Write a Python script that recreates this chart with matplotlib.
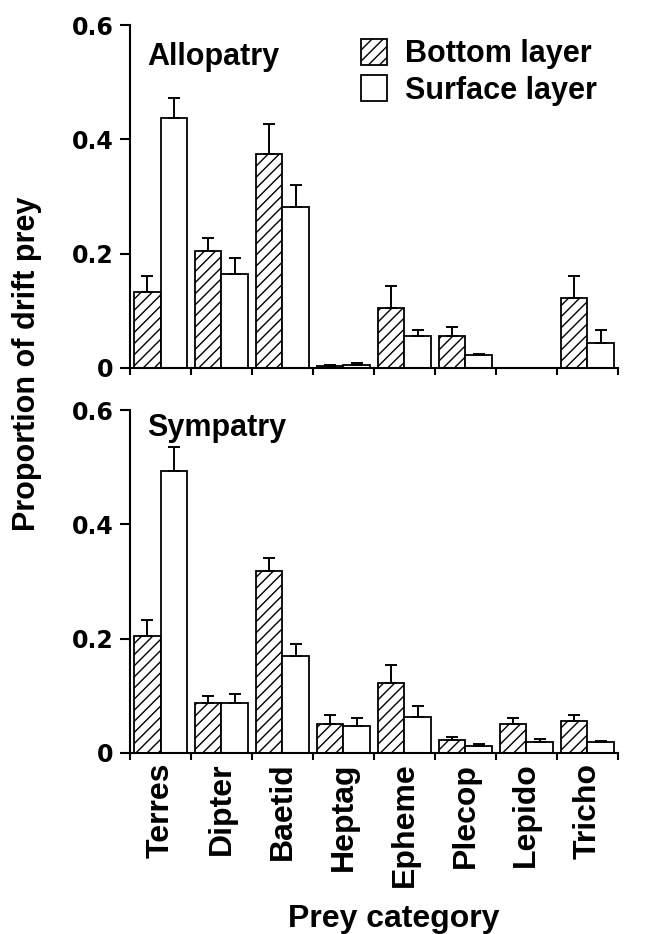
import numpy as np
import matplotlib
matplotlib.use("Agg")
import matplotlib.pyplot as plt

plt.rcParams['hatch.linewidth'] = 1.0
plt.rcParams['font.family'] = ['Liberation Sans', 'DejaVu Sans']
plt.rcParams['font.weight'] = 'bold'

# données
categories = ['Terres', 'Dipter', 'Baetid', 'Heptag', 'Epheme', 'Plecop', 'Lepido', 'Tricho']

allo_bottom = [0.133, 0.205, 0.375, 0.004, 0.105, 0.056, 0.0, 0.123]
allo_bottom_se = [0.028, 0.022, 0.052, 0.001, 0.039, 0.015, 0.0, 0.038]
allo_surface = [0.438, 0.164, 0.281, 0.006, 0.056, 0.023, 0.0, 0.043]
allo_surface_se = [0.034, 0.029, 0.039, 0.002, 0.010, 0.001, 0.0, 0.023]

sym_bottom = [0.205, 0.088, 0.319, 0.051, 0.123, 0.023, 0.051, 0.056]
sym_bottom_se = [0.027, 0.012, 0.022, 0.016, 0.031, 0.005, 0.010, 0.011]
sym_surface = [0.494, 0.088, 0.169, 0.047, 0.063, 0.013, 0.019, 0.019]
sym_surface_se = [0.041, 0.015, 0.022, 0.015, 0.019, 0.003, 0.005, 0.002]

yticks = [0, 0.2, 0.4, 0.6]
ytick_labels = ['0', '0.2', '0.4', '0.6']

fig = plt.figure(figsize=(6.61, 9.34), dpi=100)
ax1 = fig.add_axes([0.1967, 0.606, 0.738, 0.367])
ax2 = fig.add_axes([0.1967, 0.1938, 0.738, 0.367])

x = np.arange(len(categories)) + 0.5
w = 0.435


def panel(ax, bottom, bottom_se, surface, surface_se, title, title_y):
    zeros = np.zeros(len(categories))
    ax.bar(x - w / 2, bottom, w, color='white', edgecolor='black', hatch='///',
           linewidth=1.3, label='Bottom layer', zorder=2)
    ax.bar(x + w / 2, surface, w, color='white', edgecolor='black',
           linewidth=1.3, label='Surface layer', zorder=2)
    ax.errorbar(x - w / 2, bottom, yerr=[zeros, bottom_se], fmt='none',
                ecolor='black', elinewidth=1.4, capsize=4.5, capthick=1.4, zorder=3)
    ax.errorbar(x + w / 2, surface, yerr=[zeros, surface_se], fmt='none',
                ecolor='black', elinewidth=1.4, capsize=4.5, capthick=1.4, zorder=3)
    ax.set_xlim(0, len(categories))
    ax.set_ylim(0, 0.6)
    ax.spines['top'].set_visible(False)
    ax.spines['right'].set_visible(False)
    ax.spines['left'].set_linewidth(1.5)
    ax.spines['bottom'].set_linewidth(1.5)
    ax.set_yticks(yticks)
    ax.set_yticklabels(ytick_labels, family='DejaVu Sans', fontweight='bold', fontsize=17)
    ax.tick_params(axis='y', length=7, width=1.5, pad=5)
    ax.set_xticks(np.arange(len(categories) + 1))
    ax.set_xticklabels([])
    ax.tick_params(axis='x', which='major', length=5, width=1.5, direction='out')
    ax.text(0.035, title_y, title, transform=ax.transAxes, fontsize=22,
            fontweight='bold', ha='left', va='top')


panel(ax1, allo_bottom, allo_bottom_se, allo_surface, allo_surface_se, 'Allopatry', 0.95)
panel(ax2, sym_bottom, sym_bottom_se, sym_surface, sym_surface_se, 'Sympatry', 0.993)

ax1.legend(loc='upper left', bbox_to_anchor=(0.473, 0.96), frameon=False,
           fontsize=22, handlelength=0.85, handleheight=0.92, handletextpad=0.6,
           labelspacing=0.2, borderpad=0, borderaxespad=0)

ax2.set_xticks(x, minor=True)
ax2.set_xticklabels(categories, minor=True, rotation=90, fontsize=23,
                    fontweight='bold', va='top', ha='center')
ax2.tick_params(axis='x', which='minor', length=0, pad=7)

fig.text(27 / 661, 1 - 364 / 934, 'Proportion of drift prey', rotation=90,
         fontsize=22, fontweight='bold', ha='center', va='center')
fig.text(394 / 661, 1 - 927 / 934, 'Prey category', fontsize=23,
         fontweight='bold', ha='center', va='baseline')

fig.savefig('out.png', dpi=100)
